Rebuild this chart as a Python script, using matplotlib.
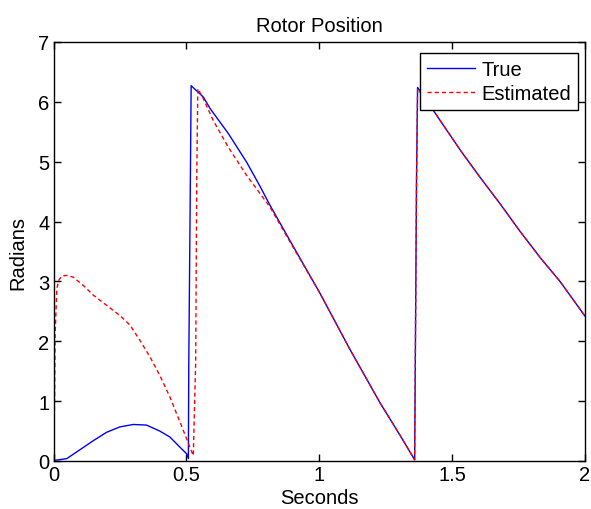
import matplotlib
matplotlib.use("Agg")
import matplotlib.pyplot as plt

plt.rcParams['font.family'] = ['Liberation Sans', 'DejaVu Sans']

# ---- data ----
t_true = [0.0, 0.02, 0.05, 0.10, 0.15, 0.20, 0.25, 0.30, 0.35, 0.40, 0.438, 0.476, 0.501,
          0.5075, 0.509, 0.515, 0.518,
          0.564, 0.589, 0.658, 0.727, 0.777, 0.815, 0.89, 1.003, 1.116, 1.229, 1.304, 1.359,
          1.366, 1.370,
          1.429, 1.467, 1.536, 1.605, 1.68, 1.755, 1.831, 1.906, 2.0]
v_true = [0.01, 0.02, 0.04, 0.19, 0.34, 0.48, 0.57, 0.61, 0.60, 0.50, 0.40, 0.23, 0.12,
          0.04, 1.60, 4.70, 6.27,
          6.08, 5.89, 5.47, 4.99, 4.59, 4.27, 3.68, 2.80, 1.86, 0.97, 0.43, 0.02,
          4.68, 6.24,
          5.86, 5.61, 5.16, 4.74, 4.30, 3.84, 3.40, 3.00, 2.42]

t_est = [0.0, 0.004, 0.006, 0.0125, 0.02, 0.031, 0.05, 0.075, 0.113, 0.15, 0.20, 0.25, 0.288,
         0.326, 0.363, 0.40, 0.438, 0.476, 0.501, 0.513, 0.526,
         0.535, 0.539, 0.543,
         0.564, 0.601, 0.658, 0.727, 0.777, 0.815, 0.89, 1.003, 1.116, 1.229, 1.304, 1.359,
         1.366, 1.370,
         1.429, 1.467, 1.536, 1.605, 1.68, 1.755, 1.831, 1.906, 2.0]
v_est = [0.0, 1.0, 2.1, 2.88, 3.02, 3.09, 3.10, 3.07, 2.93, 2.77, 2.60, 2.43, 2.27,
         2.01, 1.74, 1.43, 1.07, 0.65, 0.37, 0.23, 0.09,
         1.65, 4.70, 6.22,
         6.05, 5.69, 5.24, 4.77, 4.47, 4.24, 3.66, 2.80, 1.86, 0.97, 0.43, 0.02,
         4.68, 6.22,
         5.86, 5.61, 5.16, 4.74, 4.30, 3.84, 3.40, 3.00, 2.42]

x_ticks = [0, 0.5, 1, 1.5, 2]
x_tick_labels = ['0', '0.5', '1', '1.5', '2']
y_ticks = [0, 1, 2, 3, 4, 5, 6, 7]

fig = plt.figure(figsize=(5.91, 5.10), dpi=100)
ax = fig.add_axes([53.5/591, 1-462/510, (585-53.5)/591, (462-43)/510])

ax.plot(t_true, v_true, color='#0000ff', lw=1.0, label='True')
ax.plot(t_est, v_est, color='#ff0000', lw=1.0, linestyle=(0, (3, 2.2)), label='Estimated')

ax.set_xlim(0, 2)
ax.set_ylim(0, 7)
ax.set_xticks(x_ticks)
ax.set_xticklabels(x_tick_labels)
ax.set_yticks(y_ticks)

fs = 14.5
ax.tick_params(direction='in', top=True, right=True, length=5, width=1,
               labelsize=fs, colors='black')
ax.tick_params(axis='x', pad=3)
ax.tick_params(axis='y', pad=3)
for s in ax.spines.values():
    s.set_linewidth(1.0)
    s.set_color('black')

ax.set_title('Rotor Position', fontsize=fs, pad=8)
ax.set_xlabel('Seconds', fontsize=fs, labelpad=3)
ax.set_ylabel('Radians', fontsize=fs)
ax.yaxis.set_label_coords(-0.05, 0.5)

leg = ax.legend(loc='upper right', bbox_to_anchor=(0.987, 0.973), fontsize=fs,
                frameon=True, fancybox=False, shadow=False, borderpad=0.35,
                labelspacing=0.25, handlelength=2.4, handletextpad=0.3,
                borderaxespad=0.0)
leg.get_frame().set_edgecolor('black')
leg.get_frame().set_linewidth(1.0)
leg.get_frame().set_alpha(1.0)

fig.savefig('out.png', dpi=100)
